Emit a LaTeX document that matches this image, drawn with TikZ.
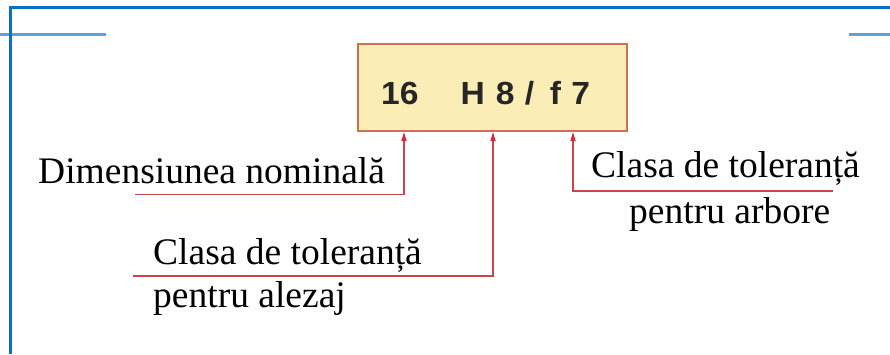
\documentclass[tikz,border=0pt]{standalone}
\usepackage{fontspec}
\setmainfont{Liberation Serif}
\newfontfamily\codefont[FakeStretch=1.05]{Liberation Sans}
\usetikzlibrary{arrows.meta}
\definecolor{frameblue}{HTML}{0A70C4}
\definecolor{ruleblue}{HTML}{5CA0DE}
\definecolor{boxfill}{HTML}{FAEEB6}
\definecolor{boxedge}{HTML}{C87452}
\definecolor{leader}{HTML}{C8454A}
\definecolor{tipred}{HTML}{D42A3C}
\tikzset{
  x=1pt, y=1pt,
  label text/.style={font=\fontsize{37.5}{40}\selectfont, inner sep=0pt, anchor=base west},
  leader line/.style={draw=leader, line width=1.3pt,
    -{Triangle[length=9pt,width=5pt,fill=tipred,color=tipred]}},
  fitbox/.style={draw=boxedge, fill=boxfill, line width=1.4pt,
    minimum width=269pt, minimum height=87pt, inner sep=0pt},
}
\begin{document}
\begin{tikzpicture}
\useasboundingbox (0,0) rectangle (890,354);
\fill[white] (0,0) rectangle (890,354);

% page frame and header rules
\draw[ruleblue, line width=2.6pt] (0,319.5) -- (106,319.5);
\draw[ruleblue, line width=2.6pt] (849,319.5) -- (890,319.5);
\draw[frameblue, line width=2.7pt] (10.7,0) -- (10.7,346.7) -- (890,346.7);

% tolerance designation box
\node[fitbox] (box) at (492.5,266.5) {};
\node[font=\codefont\bfseries\fontsize{32}{34}\selectfont, text=black!85, inner sep=0pt, anchor=base west]
  (code) at (381,250) {16\hspace{42pt}H\hspace{11pt}8\hspace{10.5pt}/\hspace{15.5pt}f\hspace{10.3pt}7};

% labels
\node[label text] (nom) at (38,171) {Dimensiunea nominală};
\node[label text] (alz1) at (153,90) {Clasa de toleranță};
\node[label text] (alz2) at (153,47) {pentru alezaj};
\node[label text] (arb1) at (591,177) {Clasa de toleranță};
\node[label text] (arb2) at (629,131) {pentru arbore};

% leader ends and arrow targets on the box
\coordinate (s1) at (135,159.5);
\coordinate (s2) at (133,78);
\coordinate (s3) at (833,163);
\coordinate (t1) at (404,222);
\coordinate (t2) at (493,222);
\coordinate (t3) at (573,222);

\draw[leader line] (s1) -| (t1);
\draw[leader line] (s2) -| (t2);
\draw[leader line] (s3) -| (t3);
\end{tikzpicture}
\end{document}
